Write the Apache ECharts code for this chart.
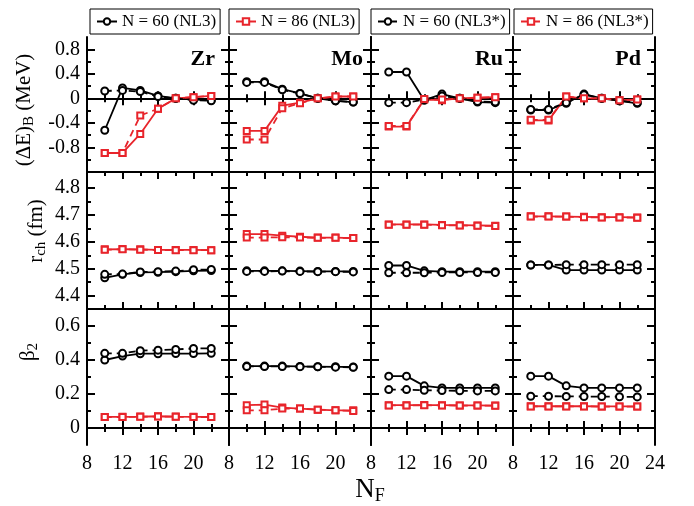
<!DOCTYPE html>
<html><head><meta charset="utf-8">
<script src="https://cdn.jsdelivr.net/npm/echarts@6/dist/echarts.min.js"></script>
<style>html,body{margin:0;padding:0;background:#fff}#c{width:694px;height:506px}</style>
</head><body><div id="c"></div>
<script>
// ---------- data ----------
const xValues = [10, 12, 14, 16, 18, 20, 22];
const elements = ['Zr', 'Mo', 'Ru', 'Pd'];
const seriesNames = ['N = 60 (NL3)', 'N = 86 (NL3)', 'N = 60 (NL3*)', 'N = 86 (NL3*)'];
const xTickLabels = [8, 12, 16, 20, 24];
const dETickLabels = [-0.8, -0.4, 0, 0.4, 0.8];
const rchTickLabels = [4.4, 4.5, 4.6, 4.7, 4.8];
const betaTickLabels = [0, 0.2, 0.4, 0.6];

// (ΔE)_B  [Zr, Mo, Ru, Pd]
const dE_N60_NL3 = [
  [-0.52, 0.17, 0.13, 0.04, 0.0, -0.02, -0.03],
  [0.27, 0.27, 0.15, 0.08, 0.0, -0.04, -0.06],
  [0.43, 0.43, -0.03, 0.07, 0.0, -0.06, -0.07],
  [-0.19, -0.19, -0.08, 0.07, 0.0, -0.04, -0.08]];
const dE_N86_NL3 = [
  [-0.89, -0.89, -0.58, -0.17, 0.0, 0.02, 0.04],
  [-0.53, -0.53, -0.12, -0.07, 0.0, 0.03, 0.03],
  [-0.46, -0.46, -0.02, -0.03, 0.0, 0.01, 0.02],
  [-0.36, -0.36, 0.03, 0.0, 0.0, -0.03, -0.02]];
const dE_N60_NL3s = [
  [0.12, 0.13, 0.11, 0.03, 0.0, -0.03, -0.04],
  [0.26, 0.26, 0.14, 0.08, 0.0, -0.04, -0.06],
  [-0.07, -0.07, -0.02, 0.04, 0.0, -0.05, -0.06],
  [-0.18, -0.18, -0.07, 0.06, 0.0, -0.04, -0.07]];
const dE_N86_NL3s = [
  [-0.89, -0.89, -0.28, -0.17, 0.0, 0.02, 0.04],
  [-0.67, -0.67, -0.16, -0.08, 0.0, 0.03, 0.03],
  [-0.45, -0.45, -0.01, -0.02, 0.0, 0.01, 0.02],
  [-0.35, -0.35, 0.03, 0.0, 0.0, -0.03, -0.02]];

// r_ch
const rch_N60_NL3 = [
  [4.466, 4.479, 4.486, 4.487, 4.489, 4.492, 4.493],
  [4.492, 4.492, 4.492, 4.491, 4.490, 4.490, 4.490],
  [4.512, 4.512, 4.492, 4.489, 4.489, 4.489, 4.489],
  [4.514, 4.514, 4.495, 4.495, 4.495, 4.495, 4.495]];
const rch_N86_NL3 = [
  [4.572, 4.573, 4.572, 4.570, 4.570, 4.570, 4.569],
  [4.629, 4.629, 4.623, 4.619, 4.616, 4.616, 4.614],
  [4.665, 4.665, 4.665, 4.663, 4.662, 4.661, 4.660],
  [4.695, 4.695, 4.694, 4.693, 4.692, 4.692, 4.691]];
const rch_N60_NL3s = [
  [4.479, 4.480, 4.488, 4.489, 4.491, 4.496, 4.497],
  [4.490, 4.490, 4.491, 4.490, 4.489, 4.489, 4.488],
  [4.485, 4.485, 4.485, 4.486, 4.486, 4.486, 4.486],
  [4.514, 4.514, 4.515, 4.515, 4.515, 4.515, 4.515]];
const rch_N86_NL3s = [
  [4.571, 4.572, 4.571, 4.570, 4.569, 4.569, 4.569],
  [4.616, 4.616, 4.617, 4.616, 4.615, 4.615, 4.614],
  [4.664, 4.664, 4.664, 4.662, 4.661, 4.660, 4.659],
  [4.694, 4.694, 4.694, 4.692, 4.691, 4.691, 4.690]];

// β2
const beta_N60_NL3 = [
  [0.400, 0.423, 0.437, 0.437, 0.438, 0.438, 0.439],
  [0.364, 0.364, 0.364, 0.362, 0.361, 0.360, 0.359],
  [0.305, 0.305, 0.248, 0.236, 0.236, 0.236, 0.236],
  [0.305, 0.305, 0.248, 0.236, 0.236, 0.236, 0.236]];
const beta_N86_NL3 = [
  [0.065, 0.066, 0.067, 0.069, 0.067, 0.066, 0.065],
  [0.134, 0.138, 0.120, 0.114, 0.108, 0.104, 0.104],
  [0.134, 0.134, 0.135, 0.134, 0.133, 0.133, 0.132],
  [0.128, 0.128, 0.128, 0.128, 0.127, 0.127, 0.127]];
const beta_N60_NL3s = [
  [0.439, 0.439, 0.455, 0.458, 0.462, 0.468, 0.468],
  [0.362, 0.362, 0.362, 0.361, 0.360, 0.358, 0.357],
  [0.226, 0.226, 0.222, 0.220, 0.219, 0.218, 0.218],
  [0.187, 0.187, 0.186, 0.185, 0.185, 0.184, 0.183]];
const beta_N86_NL3s = [
  [0.064, 0.065, 0.066, 0.068, 0.066, 0.065, 0.064],
  [0.104, 0.104, 0.114, 0.114, 0.108, 0.104, 0.100],
  [0.133, 0.133, 0.134, 0.133, 0.132, 0.132, 0.131],
  [0.127, 0.127, 0.127, 0.127, 0.126, 0.126, 0.126]];

// ---------- layout ----------
const FONT = '"Liberation Serif", "Times New Roman", serif';
const RED = '#e8242b';
const colEdges = [87, 229, 371, 513, 655];
const rowEdges = [37, 172, 309, 445];
const rows = [
  {min: -1.2, max: 1.0, major: dETickLabels, minor: [-1.0, -0.6, -0.2, 0.2, 0.6],
   sets: [dE_N60_NL3, dE_N86_NL3, dE_N60_NL3s, dE_N86_NL3s]},
  {min: 4.35, max: 4.86, major: rchTickLabels, minor: [4.45, 4.55, 4.65, 4.75],
   sets: [rch_N60_NL3, rch_N86_NL3, rch_N60_NL3s, rch_N86_NL3s]},
  {min: -0.1, max: 0.7, major: betaTickLabels, minor: [0.1, 0.3, 0.5],
   sets: [beta_N60_NL3, beta_N86_NL3, beta_N60_NL3s, beta_N86_NL3s]}
];
const xMajorInner = [12, 16, 20];
const xMinor = [10, 14, 18, 22];

const grids = [], xAxes = [], yAxes = [], series = [], graphics = [];
const lineAxis = {show: true, lineStyle: {color: '#000', width: 2}};
const labelStyle = {color: '#000', fontFamily: FONT, fontSize: 20};

for (let r = 0; r < 3; r++) {
  for (let c = 0; c < 4; c++) {
    const g = grids.length;
    const R = rows[r];
    grids.push({left: colEdges[c], top: rowEdges[r], width: colEdges[c + 1] - colEdges[c],
                height: rowEdges[r + 1] - rowEdges[r], containLabel: false});
    const xb = {gridIndex: g, type: 'value', min: 8, max: 24, splitLine: {show: false}};
    const xLabels = c === 3 ? xTickLabels : xTickLabels.slice(0, 4);
    xAxes.push(Object.assign({}, xb, {position: 'bottom', axisLine: lineAxis,
      axisTick: {show: true, inside: true, length: 7, customValues: xMajorInner, lineStyle: {color: '#000', width: 2}},
      axisLabel: Object.assign({show: r === 2, customValues: xLabels, margin: 9, showMinLabel: true, showMaxLabel: true}, labelStyle)}));
    xAxes.push(Object.assign({}, xb, {position: 'bottom', axisLine: {show: false},
      axisTick: {show: true, inside: true, length: 4, customValues: xMinor, lineStyle: {color: '#000', width: 2}},
      axisLabel: {show: false}}));
    xAxes.push(Object.assign({}, xb, {position: 'top', axisLine: lineAxis,
      axisTick: {show: true, inside: true, length: 7, customValues: xMajorInner, lineStyle: {color: '#000', width: 2}},
      axisLabel: {show: false}}));
    xAxes.push(Object.assign({}, xb, {position: 'top', axisLine: {show: false},
      axisTick: {show: true, inside: true, length: 4, customValues: xMinor, lineStyle: {color: '#000', width: 2}},
      axisLabel: {show: false}}));

    const yb = {gridIndex: g, type: 'value', min: R.min, max: R.max, splitLine: {show: false}};
    yAxes.push(Object.assign({}, yb, {position: 'left', axisLine: lineAxis,
      axisTick: {show: true, inside: true, length: 8, customValues: R.major, lineStyle: {color: '#000', width: 2}},
      axisLabel: Object.assign({show: c === 0, customValues: R.major, margin: 7,
        formatter: v => String(Math.round(v * 100) / 100)}, labelStyle)}));
    yAxes.push(Object.assign({}, yb, {position: 'left', axisLine: {show: false},
      axisTick: {show: true, inside: true, length: 4, customValues: R.minor, lineStyle: {color: '#000', width: 2}},
      axisLabel: {show: false}}));
    yAxes.push(Object.assign({}, yb, {position: 'right', axisLine: lineAxis,
      axisTick: {show: true, inside: true, length: 8, customValues: R.major, lineStyle: {color: '#000', width: 2}},
      axisLabel: {show: false}}));
    yAxes.push(Object.assign({}, yb, {position: 'right', axisLine: {show: false},
      axisTick: {show: true, inside: true, length: 4, customValues: R.minor, lineStyle: {color: '#000', width: 2}},
      axisLabel: {show: false}}));

    for (let s = 0; s < 4; s++) {
      const isRed = s % 2 === 1;
      const dashed = s >= 2;
      const col = isRed ? RED : '#000';
      series.push({
        name: seriesNames[s], type: 'line',
        xAxisIndex: 4 * g, yAxisIndex: 4 * g,
        data: xValues.map((x, i) => [x, R.sets[s][c][i]]),
        symbol: isRed ? 'emptyRect' : 'emptyCircle',
        symbolSize: isRed ? 6 : 7,
        showAllSymbol: true,
        itemStyle: {color: col, borderColor: col, borderWidth: 1.5},
        lineStyle: {color: col, width: 1.8, type: dashed ? [7, 5] : 'solid'},
        z: dashed ? 3 : 2,
        animation: false
      });
    }
    if (r === 0) {
      graphics.push({type: 'text', right: 694 - colEdges[c + 1] + (c === 1 ? 8 : c === 2 ? 10 : 14), top: 48,
        style: {text: elements[c], font: 'bold 22px ' + FONT, fill: '#000'}});
    }
  }
}

// axis titles
const richSub = {
  m: {fontFamily: FONT, fontSize: 21, fill: '#000', lineHeight: 26},
  s: {fontFamily: FONT, fontSize: 15, fill: '#000', lineHeight: 10, verticalAlign: 'bottom'}
};
function titleText(x, y, text, rot) {
  graphics.push({type: 'text', x: x, y: y, rotation: rot,
    style: {text: text, rich: richSub, align: 'center', verticalAlign: 'middle', fill: '#000'}});
}
titleText(24, 110, '{m|(ΔE)}{s|B}{m| (MeV)}', Math.PI / 2);
titleText(36, 231, '{m|r}{s|ch}{m| (fm)}', Math.PI / 2);
titleText(28, 352, '{m|β}{s|2}', Math.PI / 2);
graphics.push({type: 'text', x: 370, y: 490,
  style: {text: '{n|N}{f|F}', align: 'center', verticalAlign: 'middle',
    rich: {n: {fontFamily: FONT, fontSize: 27, fill: '#000', lineHeight: 30},
           f: {fontFamily: FONT, fontSize: 18, fill: '#000', lineHeight: 12, verticalAlign: 'bottom'}}}});

const legendLefts = [90, 229, 371, 514];
const legends = seriesNames.map((n, i) => ({
  data: [n], left: legendLefts[i], top: 9, padding: [3, 4, 3, 6],
  borderColor: '#000', borderWidth: 1, itemWidth: 20, itemHeight: 8, itemGap: 4,
  textStyle: {fontFamily: FONT, fontSize: 17, color: '#000', lineHeight: 19}, selectedMode: false
}));

const chart = echarts.init(document.getElementById('c'), null, {renderer: 'canvas'});
chart.setOption({
  animation: false,
  backgroundColor: '#fff',
  textStyle: {fontFamily: FONT},
  legend: legends,
  grid: grids, xAxis: xAxes, yAxis: yAxes, series: series,
  graphic: graphics
});
</script>
</body></html>
